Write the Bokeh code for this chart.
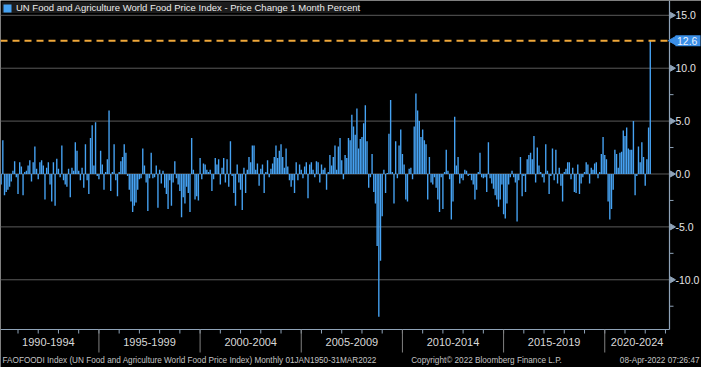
from math import pi
from bokeh.plotting import figure
from bokeh.models import ColumnDataSource, Grid
from bokeh.core.properties import value
from bokeh.embed import file_html
from bokeh.resources import INLINE

TITLE = "UN Food and Agriculture World Food Price Index - Price Change 1 Month Percent"
FOOT_LEFT = "FAOFOODI Index (UN Food and Agriculture World Food Price Index)  Monthly 01JAN1950-31MAR2022"
FOOT_MID = "Copyright\u00a9 2022 Bloomberg Finance L.P."
FOOT_RIGHT = "08-Apr-2022 07:26:47"

start_year = 1990

chg_1990_1994 = [0.45, -1.0, 3.2, -2.0, -1.7, -1.5, -1.2, -0.7, 0.3, 1.2,
                 -0.3, -1.9, 1.1, 0.7, -2.0, 0.2, 0.3, 0.8, 1.3, -0.7,
                 1.1, 2.6, 0.5, -0.5, 1.1, 1.3, 0.8, -2.4, 0.6, 1.1,
                 -1.0, -2.6, 1.1, -3.0, 1.45, 0.5, -0.3, 2.7, -0.6, -1.0,
                 -1.2, 0.5, -2.2, 0.6, 0.3, 3.0, 2.2, 0.3, -0.6, 0.6,
                 -1.3, 2.8, -0.6, -1.9, 3.4, 4.6, 0.8, 4.9, -0.2, -0.5]
chg_1995_1999 = [2.2, 0.9, -1.5, 0.2, 1.4, 6.0, -1.6, 0.2, 2.8, -0.6,
                 -2.1, 0.2, 1.2, 1.6, 2.8, 2.0, -0.2, -1.5, -2.6, -3.6,
                 -3.0, -2.7, -1.5, -0.5, -0.4, 2.4, 0.8, -0.8, -3.5, -0.4,
                 2.0, -0.4, -0.3, 0.8, -3.2, 0.4, -0.9, 0.3, -1.3, -1.9,
                 -3.3, -0.6, -3.0, -0.8, 1.2, -0.4, -1.0, -1.6, -4.1, -2.2,
                 -2.8, -1.2, -1.8, -3.6, 3.4, 0.4, -2.4, -2.1, -2.5, 1.5]
chg_2000_2004 = [-0.5, 1.0, 0.9, 0.4, 0.2, 0.4, -1.6, -0.5, 1.5, 0.9,
                 1.4, -1.0, 0.6, 1.5, -0.8, 1.4, -1.2, 3.1, -0.2, -1.8,
                 -3.0, 0.9, -0.8, -1.5, -3.4, 0.6, -1.8, 0.4, 1.6, 1.1,
                 2.7, 2.7, 0.4, 1.0, -1.1, 0.5, 0.9, -1.8, 0.2, 1.3,
                 -0.3, 0.5, 1.0, 1.6, 2.7, 1.5, 2.2, 2.8, 1.6, 0.6,
                 2.4, 0.7, -0.6, -1.2, -0.6, -1.8, 1.1, -0.6, 0.9, 0.4]
chg_2005_2009 = [-0.4, 0.7, 1.1, -2.3, 0.9, 1.1, 0.4, -0.3, 1.2, 1.1,
                 -0.8, 0.9, 0.4, 0.6, -1.5, 0.2, 1.8, 0.8, 1.6, 2.7,
                 0.4, 2.6, 3.4, 1.3, -0.5, 1.8, 1.5, 3.4, 3.2, 5.6,
                 4.5, 3.7, 6.2, 2.4, 3.3, 3.5, 4.8, 6.5, 3.1, -1.3,
                 -0.3, 1.9, -1.7, -2.8, -6.8, -13.5, -8.2, -4.0, 0.4, -1.8,
                 0.1, 3.8, 7.0, 0.2, -2.8, 3.1, -0.4, 2.7, 4.2, 1.9]
chg_2010_2014 = [0.9, -2.4, -2.6, 0.5, 0.6, -0.5, 4.5, 7.6, 6.0, 5.0,
                 3.5, 4.2, 3.2, 2.8, -2.4, 1.6, -0.8, -1.0, -0.3, -1.3,
                 -2.4, -3.6, -0.3, -3.3, 0.2, 2.3, 0.3, -0.5, -4.3, -2.6,
                 5.4, 0.8, 1.6, -0.9, -0.4, -0.6, 0.4, 0.3, -0.2, -0.1,
                 -0.6, -1.0, -2.4, -1.5, 0.2, 2.0, -0.3, -0.4, -0.3, -1.7,
                 3.0, -0.4, -0.9, -1.4, -2.0, -2.4, -3.1, -2.4, -1.0, -3.8]
chg_2015_2019 = [-4.2, -2.8, -1.0, -0.3, 0.3, -0.3, -0.8, -4.5, -0.6, 1.6,
                 -2.1, -0.2, -1.7, 1.4, 1.8, 2.0, 1.4, 3.6, -0.8, 2.5,
                 0.8, 0.2, -0.3, -0.8, 2.8, 0.3, -1.9, -0.2, 2.4, -0.6,
                 2.3, -0.9, 0.6, -1.1, -2.6, 0.2, 0.5, 1.1, 1.1, -0.5,
                 0.6, -1.7, -1.8, 0.9, -1.9, -0.9, -0.3, 0.2, 1.1, 0.9,
                 -0.9, 0.6, 0.4, 1.0, 1.1, -0.4, 0.2, 1.9, 3.5, 1.8]
chg_2020_2022 = [1.4, -2.6, -4.3, -3.3, -1.5, 2.3, 1.9, 0.6, 2.0, 2.1, 4.1, 3.6,
                 4.4, 2.4, 2.3, 2.3, 5.0, -2.0, -0.2, 2.6, 1.1, 3.0, 1.6, -1.1,
                 1.4, 4.4, 12.6]

last_value = 12.6
period_labels = ["1990-1994", "1995-1999", "2000-2004", "2005-2009",
                 "2010-2014", "2015-2019", "2020-2024"]
period_starts = [1990, 1995, 2000, 2005, 2010, 2015, 2020]
y_ticks = [-10, -5, 0, 5, 10, 15]
y_minor = [-12.5, -7.5, -2.5, 2.5, 7.5, 12.5]

values = (chg_1990_1994 + chg_1995_1999 + chg_2000_2004 + chg_2005_2009
          + chg_2010_2014 + chg_2015_2019 + chg_2020_2022)
xs = [start_year + (i + 1) / 12 for i in range(len(values))]
src = ColumnDataSource(dict(x=xs, v=values))

# visible chart window (data) and its size in pixels
X0, X1 = 1990.135, 2023.2
Y0, Y1 = -14.7, 16.4
W, H = 701, 367
CW, CH = 669, 329
px = (X1 - X0) / CW
py = (Y1 - Y0) / CH

BLUE = "#46a2f2"
CALLOUT = "#3a8ee6"
AXIS = "#8fa3b8"
GRID = "#5a5a5a"
DIV = "#808080"
FONT = value("Liberation Sans")

p = figure(width=W, height=H, x_range=(X0, X0 + W * px), y_range=(Y1 - H * py, Y1),
           output_backend="svg", toolbar_location=None,
           x_axis_location=None, y_axis_location=None, min_border=0,
           background_fill_color="black", border_fill_color="black",
           outline_line_color=None)
for r in list(p.center):
    if isinstance(r, Grid):
        r.visible = False

# horizontal grid
p.segment(x0=[X0] * len(y_ticks), x1=[X1] * len(y_ticks), y0=y_ticks, y1=y_ticks,
          line_color=GRID, line_width=1)

# bars
p.vbar(x="x", top="v", bottom=0, width=0.82 / 12, source=src,
       fill_color=BLUE, line_color=None, legend_label=TITLE)

# last value reference line
p.segment(x0=[X0], x1=[X1], y0=[last_value], y1=[last_value],
          line_color="#f0a83a", line_width=2, line_dash="7 5")

# right value axis
p.segment(x0=[X1], x1=[X1], y0=[Y0], y1=[Y1], line_color=AXIS, line_width=1.2)
p.scatter(x=[X1 + 2.5 * px] * len(y_ticks), y=y_ticks, marker="triangle",
          angle=-pi / 2, size=6, color=AXIS)
p.segment(x0=[X1] * len(y_minor), x1=[X1 + 4 * px] * len(y_minor), y0=y_minor, y1=y_minor,
          line_color=AXIS, line_width=1)
p.text(x=[X1 + 6 * px] * len(y_ticks), y=y_ticks, text=[f"{t:.1f}" for t in y_ticks],
       text_align="left", text_baseline="middle", text_color="#e4e4e4",
       text_font=FONT, text_font_size="10.5px")

# last value callout
p.quad(left=[X1 + 6 * px], right=[X1 + 31 * px], bottom=[last_value - 5.5 * py],
       top=[last_value + 5.5 * py], fill_color=CALLOUT, line_color=None)
p.scatter(x=[X1 + 4 * px], y=[last_value], marker="triangle", angle=pi / 2, size=9,
          color=CALLOUT)
p.text(x=[X1 + 7.5 * px], y=[last_value], text=[f"{last_value:.1f}"],
       text_align="left", text_baseline="middle", text_color="#eaf3ff",
       text_font=FONT, text_font_size="10.5px")

# bottom time axis
years = list(range(1991, 2024))
p.segment(x0=[X0], x1=[X1], y0=[Y0], y1=[Y0], line_color=AXIS, line_width=1.2)
p.segment(x0=years, x1=years, y0=[Y0] * len(years), y1=[Y0 - 4 * py] * len(years),
          line_color=AXIS, line_width=1)
divs = period_starts[1:]
p.segment(x0=divs, x1=divs, y0=[Y0] * len(divs), y1=[Y0 - 23 * py] * len(divs),
          line_color=DIV, line_width=1)
centers = [(s + min(s + 5, X1)) / 2 for s in period_starts]
p.text(x=centers, y=[Y0 - 12.5 * py] * len(centers), text=period_labels,
       text_align="center", text_baseline="middle", text_color="#d8d8d8",
       text_font=FONT, text_font_size="11px")

# footer
fy = Y0 - 31 * py
p.text(x=[X0 + 2 * px], y=[fy], text=[FOOT_LEFT], text_align="left", text_baseline="middle",
       text_color="#c4c4c4", text_font=FONT, text_font_size="8.2px")
p.text(x=[X0 + 486 * px], y=[fy], text=[FOOT_MID], text_align="center", text_baseline="middle",
       text_color="#c4c4c4", text_font=FONT, text_font_size="8.2px")
p.text(x=[X0 + 699 * px], y=[fy], text=[FOOT_RIGHT], text_align="right", text_baseline="middle",
       text_color="#c4c4c4", text_font=FONT, text_font_size="8.2px")

# title bar (legend)
lg = p.legend[0]
lg.location = "top_left"
lg.margin = 2
lg.padding = 5
lg.spacing = 0
lg.label_standoff = 4
lg.glyph_width = 10
lg.glyph_height = 10
lg.label_height = 10
lg.background_fill_color = "#1c1c1c"
lg.background_fill_alpha = 1
lg.border_line_color = None
lg.label_text_color = "#ececec"
lg.label_text_font = "Liberation Sans"
lg.label_text_font_size = "9.5px"

open("out.html", "w").write(file_html(p, INLINE))
